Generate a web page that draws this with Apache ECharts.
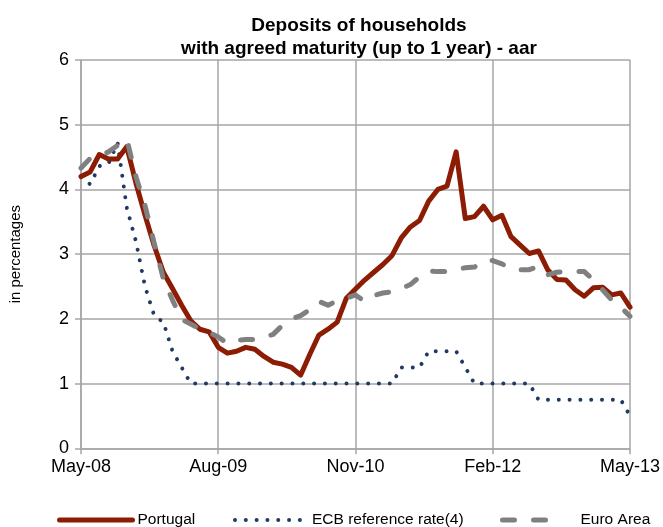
<!DOCTYPE html>
<html>
<head>
<meta charset="utf-8">
<script src="https://cdn.jsdelivr.net/npm/echarts@6/dist/echarts.min.js"></script>
<style>
html,body{margin:0;padding:0;background:#fff;}
#chart{width:663px;height:527px;}
</style>
</head>
<body>
<div id="chart"></div>
<script>
const months = [
  'May-08','Jun-08','Jul-08','Aug-08','Sep-08','Oct-08','Nov-08','Dec-08',
  'Jan-09','Feb-09','Mar-09','Apr-09','May-09','Jun-09','Jul-09','Aug-09','Sep-09','Oct-09','Nov-09','Dec-09',
  'Jan-10','Feb-10','Mar-10','Apr-10','May-10','Jun-10','Jul-10','Aug-10','Sep-10','Oct-10','Nov-10','Dec-10',
  'Jan-11','Feb-11','Mar-11','Apr-11','May-11','Jun-11','Jul-11','Aug-11','Sep-11','Oct-11','Nov-11','Dec-11',
  'Jan-12','Feb-12','Mar-12','Apr-12','May-12','Jun-12','Jul-12','Aug-12','Sep-12','Oct-12','Nov-12','Dec-12',
  'Jan-13','Feb-13','Mar-13','Apr-13','May-13'
];

const portugal = [
  4.20,4.27,4.54,4.47,4.47,4.66,4.10,3.60,3.13,2.72,2.47,2.21,1.97,1.84,1.80,1.56,
  1.47,1.50,1.56,1.53,1.42,1.33,1.30,1.25,1.13,1.45,1.75,1.84,1.95,2.32,2.46,2.60,
  2.72,2.84,2.98,3.25,3.42,3.52,3.82,4.00,4.05,4.58,3.55,3.58,3.74,3.53,3.60,3.27,
  3.14,3.01,3.05,2.76,2.61,2.60,2.45,2.35,2.48,2.49,2.37,2.40,2.18
];

const ecbRate = [
  4.19,4.08,4.36,4.40,4.72,3.72,3.20,2.50,2.05,1.95,1.50,1.25,1.00,
  1.00,1.00,1.00,1.00,1.00,1.00,1.00,1.00,1.00,1.00,1.00,1.00,1.00,1.00,1.00,1.00,1.00,1.00,1.00,1.00,1.00,1.00,
  1.25,1.25,1.25,1.50,1.50,1.50,1.50,1.25,
  1.00,1.00,1.00,1.00,1.00,1.00,1.00,
  0.75,0.75,0.75,0.75,0.75,0.75,0.75,0.75,0.75,0.75,
  0.50
];

const euroArea = [
  4.33,4.48,4.52,4.58,4.68,4.78,4.20,3.75,3.17,2.62,2.29,1.99,1.92,1.84,1.79,1.72,
  1.62,1.67,1.68,1.68,1.72,1.76,1.90,2.00,2.05,2.14,2.27,2.21,2.28,2.32,2.37,2.27,
  2.36,2.40,2.42,2.47,2.53,2.65,2.74,2.73,2.73,2.76,2.79,2.80,2.90,2.90,2.85,2.77,
  2.76,2.76,2.81,2.68,2.72,2.73,2.73,2.73,2.60,2.45,2.29,2.18,2.04
];

const titleText = 'Deposits of households\nwith agreed maturity (up to 1 year) - aar';
const yAxisName = 'in percentages';
const seriesNames = ['Portugal', 'ECB reference rate(4)', 'Euro Area'];

const FONT = 'Liberation Sans, Arial, sans-serif';
const GRID_COLOR = '#a6a6a6';
const C_PT = '#8c1c03';
const C_ECB = '#1f3a63';
const C_EA = '#808080';

const chart = echarts.init(document.getElementById('chart'), null, {renderer: 'canvas'});

function legendAt(left, name, width, lineStyle, textPad) {
  return {
    data: [name],
    left: left,
    top: 512,
    padding: 0,
    itemWidth: width,
    itemHeight: 14,
    selectedMode: false,
    lineStyle: lineStyle,
    itemStyle: {color: 'rgba(0,0,0,0)', borderWidth: 0, opacity: 0},
    textStyle: {fontFamily: FONT, fontSize: 15.5, color: '#000', padding: [0, 0, 0, textPad]}
  };
}

chart.setOption({
  animation: false,
  backgroundColor: '#fff',
  title: {
    text: titleText,
    left: 354,
    textAlign: 'center',
    top: 9,
    textStyle: {fontFamily: FONT, fontSize: 19, fontWeight: 'bold', color: '#000', lineHeight: 23}
  },
  grid: {left: 80, right: 31.6, top: 60, bottom: 78.7, containLabel: false},
  legend: [
    legendAt(57, seriesNames[0], 73, {width: 5, color: C_PT, type: 'solid', cap: 'round'}, 0),
    legendAt(233, seriesNames[1], 72, {width: 4, color: C_ECB, type: [0.01, 10.8], cap: 'round'}, 0),
    legendAt(500, seriesNames[2], 60, {width: 5, color: C_EA, type: [12, 19], cap: 'round'}, 13)
  ],
  xAxis: {
    type: 'category',
    data: months,
    boundaryGap: false,
    axisLine: {show: true, lineStyle: {color: GRID_COLOR, width: 1.5}},
    axisTick: {show: true, interval: 14, length: 6, lineStyle: {color: GRID_COLOR, width: 1.5}},
    axisLabel: {interval: 14, margin: 10, fontFamily: FONT, fontSize: 18, color: '#000'},
    splitLine: {show: true, interval: 14, lineStyle: {color: GRID_COLOR, width: 1.5}}
  },
  yAxis: {
    type: 'value',
    min: 0,
    max: 6,
    interval: 1,
    name: yAxisName,
    nameLocation: 'middle',
    nameGap: 58,
    nameRotate: 90,
    nameTextStyle: {fontFamily: FONT, fontSize: 15, color: '#000'},
    axisLine: {show: true, lineStyle: {color: GRID_COLOR, width: 1.5}},
    axisTick: {show: true, length: 6, lineStyle: {color: GRID_COLOR, width: 1.5}},
    axisLabel: {margin: 12, fontFamily: FONT, fontSize: 18, color: '#000'},
    splitLine: {show: true, lineStyle: {color: GRID_COLOR, width: 1.5}}
  },
  series: [
    {
      name: seriesNames[0], type: 'line', data: portugal, symbol: 'none', z: 3,
      lineStyle: {color: C_PT, width: 5, join: 'round', cap: 'round'},
      itemStyle: {color: C_PT}
    },
    {
      name: seriesNames[1], type: 'line', data: ecbRate, symbol: 'none', z: 2,
      lineStyle: {color: C_ECB, width: 4, type: [0.01, 10.8], cap: 'round', join: 'round'},
      itemStyle: {color: C_ECB}
    },
    {
      name: seriesNames[2], type: 'line', data: euroArea, symbol: 'none', z: 4,
      lineStyle: {color: C_EA, width: 5, type: [12, 19], cap: 'round', join: 'round'},
      itemStyle: {color: C_EA}
    }
  ]
});
</script>
</body>
</html>
